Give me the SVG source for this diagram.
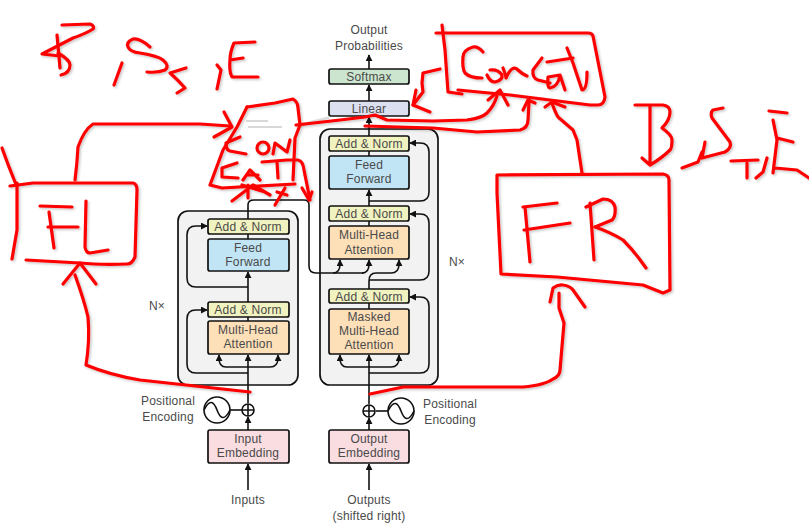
<svg xmlns="http://www.w3.org/2000/svg" width="809" height="527" viewBox="0 0 809 527">
<style>
text{font-family:"Liberation Sans",Arial,sans-serif;font-size:12px;letter-spacing:.2px;fill:#4a4a4a;text-anchor:middle}
.c{fill:#f2f2f2;stroke:#111;stroke-width:1.7}
.b{stroke:#111;stroke-width:1.7}
.an{fill:#f0f2bf}.ff{fill:#c2e5f5}.mh{fill:#fddfb8}.em{fill:#fadde1}.sm{fill:#cce5cf}.li{fill:#dcdff0}
.w{fill:none;stroke:#111;stroke-width:1.6}
.r{fill:none;stroke:#f00;stroke-width:3.2;stroke-linecap:round;stroke-linejoin:round}
</style>
<defs>
<marker id="a" viewBox="0 0 8 8" refX="7" refY="4" markerWidth="7" markerHeight="7" orient="auto" markerUnits="userSpaceOnUse"><path d="M0 0L8 4L0 8z" fill="#111"/></marker>
<filter id="s" x="-5%" y="-5%" width="110%" height="110%"><feDropShadow dx="1.5" dy="1.5" stdDeviation="1" flood-color="#000" flood-opacity=".22"/></filter>
</defs>
<rect width="809" height="527" fill="#fff"/>
<g id="enc-container"><rect class="c" x="178" y="211" width="120" height="174" rx="10"/></g>
<g id="dec-container"><rect class="c" x="320" y="129" width="118" height="256" rx="10"/></g>
<g id="connectors" class="w">
<path marker-end="url(#a)" d="M248 490V464"/>
<path marker-end="url(#a)" d="M248 430V417"/>
<path marker-end="url(#a)" d="M248 403V355"/>
<path d="M230 410H242"/>
<path d="M248 354V317"/>
<path marker-end="url(#a)" d="M248 302V272"/>
<path d="M248 239V234"/>
<path d="M248 219V205Q248 200 254 200H304Q309 200 309 205V266Q309 273 316 273H364"/>
<path marker-end="url(#a)" d="M333 273Q340 273 340 264V260"/>
<path marker-end="url(#a)" d="M362 273Q369 273 369 264V260"/>
<path marker-end="url(#a)" d="M226 367Q219 367 219 358V355"/>
<path d="M226 367H270"/>
<path marker-end="url(#a)" d="M270 367Q278 367 278 358V355"/>
<path marker-end="url(#a)" d="M248 373H196Q187 373 187 364V319Q187 310 196 310H207"/>
<path marker-end="url(#a)" d="M248 287H196Q187 287 187 278V235Q187 226 196 226H207"/>
<path marker-end="url(#a)" d="M369 490V464"/>
<path marker-end="url(#a)" d="M369 430V418"/>
<path marker-end="url(#a)" d="M369 404V355"/>
<path d="M388 411H376"/>
<path marker-end="url(#a)" d="M347 367Q340 367 340 358V355"/>
<path d="M347 367H391"/>
<path marker-end="url(#a)" d="M391 367Q399 367 399 358V355"/>
<path marker-end="url(#a)" d="M369 373H420Q429 373 429 364V306Q429 297 420 297H410"/>
<path d="M369 309V303"/>
<path d="M369 289V281Q369 273 376 273H391"/>
<path marker-end="url(#a)" d="M391 273Q399 273 399 264V260"/>
<path marker-end="url(#a)" d="M369 280H420Q429 280 429 271V223Q429 214 420 214H410"/>
<path d="M369 226V221"/>
<path marker-end="url(#a)" d="M369 206V190"/>
<path marker-end="url(#a)" d="M369 201H420Q429 201 429 192V152Q429 143 420 143H410"/>
<path d="M369 156V151"/>
<path marker-end="url(#a)" d="M369 136V117"/>
<path marker-end="url(#a)" d="M369 101V85"/>
<path marker-end="url(#a)" d="M369 69V55"/>
</g>
<g id="linear"><rect class="b li" x="329" y="101" width="80" height="15" rx="2"/><text x="369" y="113">Linear</text></g>
<g id="softmax"><rect class="b sm" x="329" y="69" width="80" height="15" rx="2"/><text x="369" y="81">Softmax</text></g>
<g id="dec-an3"><rect class="b an" x="329" y="136" width="80" height="15" rx="2"/><text x="369" y="148">Add &amp; Norm</text></g>
<g id="dec-ff"><rect class="b ff" x="329" y="156" width="80" height="33" rx="2"/><text x="369" y="169">Feed</text><text x="369" y="183">Forward</text></g>
<g id="dec-an2"><rect class="b an" x="329" y="206" width="80" height="15" rx="2"/><text x="369" y="218">Add &amp; Norm</text></g>
<g id="dec-mha"><rect class="b mh" x="329" y="226" width="80" height="33" rx="2"/><text x="369" y="239">Multi-Head</text><text x="369" y="254">Attention</text></g>
<g id="dec-an1"><rect class="b an" x="329" y="289" width="80" height="14" rx="2"/><text x="369" y="301">Add &amp; Norm</text></g>
<g id="dec-mmha"><rect class="b mh" x="329" y="309" width="80" height="45" rx="2"/><text x="369" y="321">Masked</text><text x="369" y="335">Multi-Head</text><text x="369" y="349">Attention</text></g>
<g id="enc-an2"><rect class="b an" x="208" y="219" width="81" height="15" rx="2"/><text x="248" y="231">Add &amp; Norm</text></g>
<g id="enc-ff"><rect class="b ff" x="208" y="239" width="81" height="32" rx="2"/><text x="248" y="252">Feed</text><text x="248" y="266">Forward</text></g>
<g id="enc-an1"><rect class="b an" x="208" y="302" width="81" height="15" rx="2"/><text x="248" y="314">Add &amp; Norm</text></g>
<g id="enc-mha"><rect class="b mh" x="208" y="321" width="81" height="33" rx="2"/><text x="248" y="334">Multi-Head</text><text x="248" y="348">Attention</text></g>
<g id="input-emb"><rect class="b em" x="208" y="430" width="81" height="33" rx="2"/><text x="248" y="443">Input</text><text x="248" y="457">Embedding</text></g>
<g id="output-emb"><rect class="b em" x="329" y="430" width="80" height="33" rx="2"/><text x="369" y="443">Output</text><text x="369" y="457">Embedding</text></g>
<g id="enc-pe" class="w"><circle cx="217" cy="410" r="13" fill="#fff"/><path d="M204 410C210 398 214 402 217 410S224 422 230 410"/><circle cx="248" cy="410" r="6" fill="#fff"/><path d="M242 410H254M248 404V416"/></g>
<g id="dec-pe" class="w"><circle cx="401" cy="411" r="13" fill="#fff"/><path d="M388 411C394 399 398 403 401 411S408 423 414 411"/><circle cx="369" cy="411" r="6" fill="#fff"/><path d="M363 411H375M369 405V417"/></g>
<g id="labels">
<text x="369" y="34">Output</text><text x="369" y="50">Probabilities</text>
<text x="168" y="405">Positional</text><text x="168" y="421">Encoding</text>
<text x="450" y="408">Positional</text><text x="450" y="424">Encoding</text>
<text x="248" y="504">Inputs</text>
<text x="369" y="504">Outputs</text><text x="369" y="520">(shifted right)</text>
<text x="157" y="310">N×</text><text x="457" y="266">N×</text>
</g>
<g id="eraser"><path d="M298 124L330 116L329 119L298 128Z" fill="#ddd"/><path d="M238 125L248 117L258 121L262 118L270 121L298 118V124L290 130L284 128L280 131L274 128L268 131L262 129L246 131Z" fill="#fff"/><path d="M246 121H268M248 127H282" stroke="#ccc" stroke-width="1.5" fill="none"/></g>
<g id="annotations" class="r" filter="url(#s)">
<path d="M62 25L90 24Q95 26 93 29Q85 34 73 38L42 54L60 56"/><path d="M57 35L60 68"/><path d="M58 53Q70 60 70 65Q70 73 61 75"/>
<path d="M122 63L114 85"/>
<path d="M150 47Q140 38 133 39Q126 42 128 47Q130 52 140 53Q158 56 163 60Q170 66 165 70Q158 73 147 72"/>
<path d="M186 68L170 73Q178 80 185 88L177 93"/>
<path d="M217 65L221 70L217 89"/>
<path d="M255 42L234 43Q230 52 230 60Q229 72 232 77L258 77M230 60L243 58"/>
<path d="M75 180Q77 165 78 147Q84 130 93 124L200 124L230 126"/><path d="M224 112L232 127L214 137"/>
<path d="M2 148Q8 165 15 182L17 186"/>
<path d="M10 186L33 183H133Q137 184 137 190L135 257Q132 264 127 264Q100 265 80 263L26 260"/>
<path d="M17 183V230L12 259"/>
<path d="M40 206L72 207M49 212L54 248M48 227H78M86 201L85 247Q86 253 90 253L108 250"/>
<path d="M63 284L80 263L96 284"/>
<path d="M75 275Q84 300 88 317Q90 340 86 365Q110 375 140 380L250 392"/>
<path d="M247 107L237 127L223 150L210 185L222 188L295 184"/>
<path d="M247 107L275 103L293 99Q298 102 298 108L300 125L295 138L293 180"/>
<path d="M240 137L226 143Q226 150 230 151L246 154"/>
<circle cx="263" cy="148" r="6"/>
<path d="M273 154L275 143L287 152L290 140"/>
<path d="M237 163L222 168V177L238 178"/>
<path d="M243 180L250 170L260 180M247 175H258"/>
<path d="M262 162L287 160H298Q303 161 304 170L310 200M277 162L278 178"/>
<path d="M302 188L309 200L312 192"/>
<path d="M232 201L253 185L270 195M242 185L265 192M248 185V198"/>
<path d="M275 205L285 188M277 192L287 195"/>
<path d="M296 125L340 120L365 117L375 115L387 120L433 121L467 120Q482 118 487 113Q494 106 497 96"/>
<path d="M365 126L433 128L477 132L520 130Q528 128 528 120L529 102"/>
<path d="M488 100L500 90L508 105"/>
<path d="M523 110L528 100L535 103"/>
<path d="M440 69L423 73L422 83L423 92L413 105"/><path d="M416 90L413 105L430 112"/>
<path d="M442 25L445 50L448 92L462 94"/>
<path d="M436 33H443H588Q592 33 593 36L605 97Q604 105 598 105H590L510 95L458 90"/>
<path d="M483 52Q478 46 473 47Q463 50 463 57Q462 68 465 73Q470 78 482 78"/>
<path d="M487 75Q490 82 495 82Q503 80 502 75Q498 69 490 70"/><path d="M503 68Q506 76 506 78Q512 64 518 70Q522 74 527 76"/>
<path d="M542 58L533 70Q532 78 538 80L550 83"/>
<path d="M560 75L548 77Q547 88 550 88Q558 87 560 75L565 90"/>
<path d="M567 48L573 63L582 90Q587 90 587 72"/><path d="M547 62L573 58"/>
<path d="M545 107L552 102L565 107"/><path d="M552 103Q555 112 558 117L573 130L577 140L582 173"/>
<path d="M497 193V175L663 174Q669 175 669 180L670 290L663 293L643 285L557 277L501 274L497 193"/>
<path d="M523 207L557 203M525 207L530 262M524 230L570 223"/>
<path d="M586 207L603 199Q613 199 615 207Q616 216 612 220L595 227M590 203L594 260M595 227Q610 232 623 240Q635 252 646 268"/>
<path d="M635 105H663Q670 106 670 112Q670 120 662 128Q672 135 672 140Q672 148 670 150Q662 158 650 165M650 105V165M642 158L650 165"/>
<path d="M723 108L713 110Q710 113 712 118L730 142Q732 148 725 152L702 158L705 142M702 152L698 162L682 168"/>
<path d="M731 161L758 160M747 163V178"/>
<path d="M767 158L763 172L756 178"/>
<path d="M769 111L787 113M773 120L777 140L773 173M777 138L793 142M775 168L797 170L809 178"/>
<path d="M370 394L403 387H523Q545 385 553 379Q560 376 560 370L564 323L559 308V293"/>
<path d="M550 302L553 288Q558 284 563 285Q570 286 573 290L585 307"/>
</g>
</svg>
